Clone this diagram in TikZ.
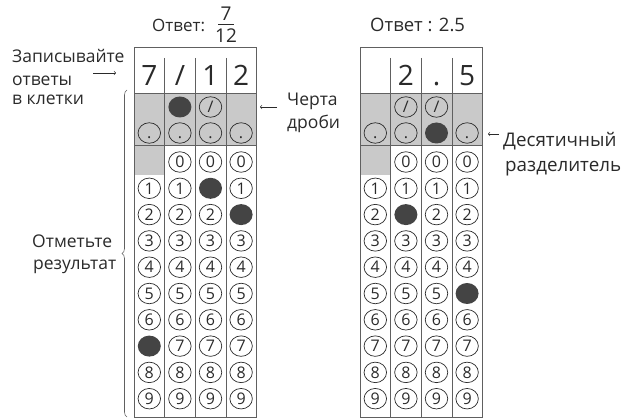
\documentclass[tikz,border=0pt]{standalone}
\usepackage{fontspec}
\setmainfont{Open Sans}
\usetikzlibrary{decorations.pathreplacing,shapes.geometric}
\definecolor{cellgray}{HTML}{C9C9C9}
\definecolor{gridgray}{HTML}{606060}
\definecolor{inkdark}{HTML}{444444}
\definecolor{txt}{HTML}{2A2A2A}
\begin{document}
\begin{tikzpicture}[x=1pt,y=-1pt,
  bub/.style={ellipse,draw=txt,line width=0.7pt,minimum width=22.5pt,minimum height=20.5pt,inner sep=0pt,text=txt,
    font=\fontsize{16}{16}\selectfont,text height=11.5pt,text depth=0pt},
  filledbub/.style={ellipse,fill=inkdark,minimum width=23pt,minimum height=21pt,inner sep=0pt},
  gridline/.style={draw=gridgray,line width=0.6pt},
  bigdigit/.style={font=\fontsize{28}{28}\selectfont,text=txt,inner sep=0pt,text height=20pt,text depth=0pt},
  lbl/.style={font=\fontsize{17.5}{17.5}\selectfont,text=txt,inner sep=0pt,anchor=base west},
  lblbig/.style={font=\fontsize{18.8}{18.8}\selectfont,text=txt,inner sep=0pt,anchor=base west},
  fracdigit/.style={font=\fontsize{19}{19}\selectfont,text=txt,inner sep=0pt,text height=13.5pt,text depth=0pt},
  pointer/.style={->,draw=txt,line width=0.6pt},
]
\useasboundingbox (0,0) rectangle (624,419);

% ---------- left grid ----------
\begin{scope}[shift={(134,0)}]
  \fill[cellgray] (0,93) rectangle (122.4,145);
  \fill[cellgray] (0,145) rectangle (30.6,175);
  \draw[gridline] (0,93) -- (122.4,93) (0,145) -- (122.4,145);
  \draw[gridline] (30.6,58) -- (30.6,417) (91.8,58) -- (91.8,417);
  \draw[gridline,line width=1.1pt] (61.2,58) -- (61.2,417);
  \draw[gridline,line width=0.9pt] (0,47) rectangle (122.4,417);
  \node[bigdigit] (L-top-1) at (15.3,76) {7};
  \node[bigdigit] (L-top-2) at (45.9,76) {/};
  \node[bigdigit] (L-top-3) at (76.5,76) {1};
  \node[bigdigit] (L-top-4) at (107.1,76) {2};
  \node[filledbub] (L-s-2) at (45.9,107) {};
  \node[bub] (L-s-3) at (76.5,107) {/};
  \foreach \c in {1,...,4} \node[bub] (L-p-\c) at ({30.6*\c-15.3},133) {.};
  \foreach \c/\f in {1/7,2/-1,3/1,4/2} {
    \foreach \d in {0,...,9} {
      \ifnum\c\d=10 \relax\else
        \ifnum\d=\f
          \node[filledbub] (L-\c-\d) at ({30.6*\c-15.3},{162+26.3*\d}) {};
        \else
          \node[bub] (L-\c-\d) at ({30.6*\c-15.3},{162+26.3*\d}) {\d};
        \fi
      \fi
    }
  }
\end{scope}

% ---------- right grid ----------
\begin{scope}[shift={(360,0)}]
  \fill[cellgray] (0,93) rectangle (122.4,145);
  \fill[cellgray] (0,145) rectangle (30.6,175);
  \draw[gridline] (0,93) -- (122.4,93) (0,145) -- (122.4,145);
  \draw[gridline] (30.6,58) -- (30.6,417) (61.2,58) -- (61.2,417) (91.8,58) -- (91.8,417);
  \draw[gridline,line width=0.9pt] (0,47) rectangle (122.4,417);
  \node[bigdigit] (R-top-2) at (45.9,76) {2};
  \node[bigdigit] (R-top-3) at (76.5,76) {.};
  \node[bigdigit] (R-top-4) at (107.1,76) {5};
  \node[bub] (R-s-2) at (45.9,107) {/};
  \node[bub] (R-s-3) at (76.5,107) {/};
  \node[bub] (R-p-1) at (15.3,133) {.};
  \node[bub] (R-p-2) at (45.9,133) {.};
  \node[filledbub] (R-p-3) at (76.5,133) {};
  \node[bub] (R-p-4) at (107.1,133) {.};
  \foreach \c/\f in {1/-1,2/2,3/-1,4/5} {
    \foreach \d in {0,...,9} {
      \ifnum\c\d=10 \relax\else
        \ifnum\d=\f
          \node[filledbub] (R-\c-\d) at ({30.6*\c-15.3},{162+26.3*\d}) {};
        \else
          \node[bub] (R-\c-\d) at ({30.6*\c-15.3},{162+26.3*\d}) {\d};
        \fi
      \fi
    }
  }
\end{scope}

% ---------- titles ----------
\node[lbl,font=\fontsize{17}{17}\selectfont] (title-left) at (152,32) {Ответ:};
\node[fracdigit] (frac-num) at (226,14) {7};
\node[fracdigit] (frac-den) at (226,36) {12};
\draw[txt,line width=0.9pt] (218,24) -- (234,24);
\node[lbl,font=\fontsize{18.5}{18.5}\selectfont] (title-right) at (370,32) {Ответ : 2.5};

% ---------- side labels ----------
\node[lbl] (write1) at (12,63) {Записывайте};
\node[lbl] (write2) at (12,86) {ответы};
\node[lbl] (write3) at (12,105) {в клетки};
\coordinate (a1s) at (93,73);
\coordinate (a1e) at (116,73);
\draw[pointer] (a1s) -- (a1e);

\node[lbl] (frac1) at (287,106) {Черта};
\node[lbl] (frac2) at (287,129) {дроби};
\coordinate (a2s) at (277,107);
\coordinate (a2e) at (260,107);
\draw[pointer] (a2s) -- (a2e);

\node[lblbig] (dec1) at (503,147) {Десятичный};
\node[lblbig] (dec2) at (505,172) {разделитель};
\coordinate (a3s) at (499,134);
\coordinate (a3e) at (488,134);
\draw[pointer] (a3s) -- (a3e);

\node[lbl] (mark1) at (32,248) {Отметьте};
\node[lbl] (mark2) at (33,270) {результат};
\draw[gridline,decorate,decoration={brace,amplitude=5pt}] (127,417) -- (127,90);
\end{tikzpicture}
\end{document}
